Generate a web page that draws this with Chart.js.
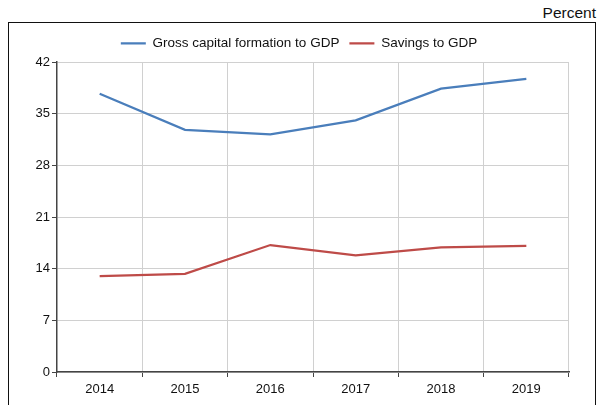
<!DOCTYPE html>
<html>
<head>
<meta charset="utf-8">
<script src="https://cdn.jsdelivr.net/npm/chart.js@4"></script>
<style>
  html, body { margin: 0; padding: 0; background: #fff; }
  #wrap { position: relative; width: 598px; height: 405px; overflow: hidden; font-family: "Liberation Sans", Arial, sans-serif; }
  #frame { position: absolute; left: 8px; top: 22px; width: 586px; height: 400px; border: 1.5px solid #111; box-sizing: content-box; }
  #unit { position: absolute; right: 2px; top: 4px; font-size: 15.5px; color: #111; }
  #c { position: absolute; left: 0; top: 0; }
</style>
</head>
<body>
<div id="wrap">
  <div id="frame"></div>
  <div id="unit">Percent</div>
  <canvas id="c" width="598" height="405"></canvas>
</div>
<script>
const categories = ["2014", "2015", "2016", "2017", "2018", "2019"];
const grossCapitalFormation = [37.7, 32.8, 32.2, 34.1, 38.4, 39.7];
const savings = [13.0, 13.3, 17.2, 15.8, 16.9, 17.1];
const seriesNames = ["Gross capital formation to GDP", "Savings to GDP"];
const yTicks = [0, 7, 14, 21, 28, 35, 42];

const FONT = "'Liberation Sans', Arial, sans-serif";

const spacer = (dim, size) => ({
  display: true,
  grid: { display: false, drawTicks: false },
  border: { display: false },
  ticks: { display: false },
  afterFit: (s) => { s[dim] = size; }
});

new Chart(document.getElementById('c'), {
  type: 'line',
  data: {
    labels: categories,
    datasets: [
      { label: seriesNames[0], data: grossCapitalFormation, borderColor: '#4a7ebb', backgroundColor: '#4a7ebb', borderWidth: 2.25, pointRadius: 0, tension: 0, fill: false },
      { label: seriesNames[1], data: savings, borderColor: '#be4b48', backgroundColor: '#be4b48', borderWidth: 2.25, pointRadius: 0, tension: 0, fill: false }
    ]
  },
  options: {
    responsive: false,
    animation: false,
    devicePixelRatio: 1,
    layout: { padding: { top: 26.5, right: 0, left: 0, bottom: 0 } },
    plugins: {
      legend: {
        position: 'top',
        labels: {
          usePointStyle: true,
          pointStyle: 'line',
          pointStyleWidth: 25,
          padding: 10,
          color: '#111',
          font: { family: FONT, size: 13.5 }
        }
      },
      tooltip: { enabled: false }
    },
    scales: {
      x: {
        offset: true,
        grid: { offset: true, color: '#d0d0d0', lineWidth: 1, tickLength: 5, tickColor: '#444' },
        border: { color: '#444', width: 1.5 },
        ticks: { color: '#111', padding: 5, font: { family: FONT, size: 13 } },
        afterFit: (s) => { s.height = 33; }
      },
      xTopSpacer: Object.assign({ type: 'category', position: 'top' }, spacer('height', 2)),
      y: {
        min: 0, max: 42,
        afterBuildTicks: (s) => { s.ticks = yTicks.map(v => ({ value: v })); },
        grid: { color: '#d0d0d0', lineWidth: 1, tickLength: 5, tickColor: '#444' },
        border: { color: '#444', width: 1.5 },
        ticks: { color: '#111', padding: 2, font: { family: FONT, size: 13 } },
        afterFit: (s) => { s.width = 57; }
      },
      yRightSpacer: Object.assign({ type: 'linear', position: 'right' }, spacer('width', 29))
    }
  }
});
</script>
</body>
</html>
